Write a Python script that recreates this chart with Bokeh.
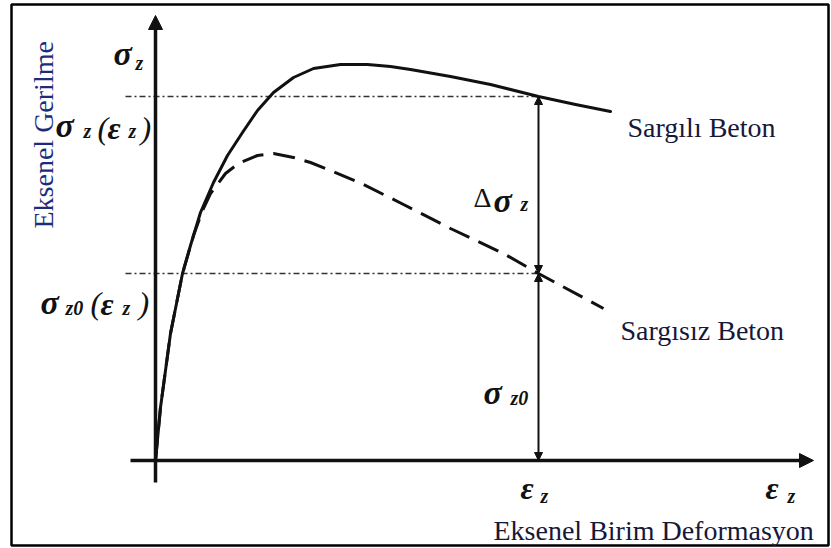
from bokeh.plotting import figure
from bokeh.models import Range1d, Arrow, NormalHead
from bokeh.core.properties import value
from bokeh.embed import file_html
from bokeh.resources import INLINE

# Stress-strain curves (schematic units: strain along x, stress along y)
confined_strain = [0.00, 0.05, 0.15, 0.27, 0.35, 0.45, 0.58, 0.72, 0.87, 1.02, 1.18,
                   1.38, 1.58, 1.85, 2.12, 2.35, 2.55, 2.95, 3.35, 3.83, 4.20, 4.55]
confined_stress = [0.00, 0.53, 1.27, 1.87, 2.15, 2.48, 2.78, 3.05, 3.28, 3.50, 3.68,
                   3.83, 3.92, 3.96, 3.96, 3.94, 3.91, 3.84, 3.76, 3.64, 3.56, 3.49]

unconfined_strain = [0.00, 0.05, 0.15, 0.27, 0.38, 0.47, 0.55, 0.70, 0.83, 1.02, 1.18,
                     1.38, 1.55, 1.75, 2.08, 2.48, 2.95, 3.48, 3.83, 4.48]
unconfined_stress = [0.00, 0.53, 1.27, 1.87, 2.25, 2.50, 2.67, 2.87, 2.97, 3.05, 3.07,
                     3.03, 2.98, 2.90, 2.76, 2.56, 2.32, 2.07, 1.87, 1.52]

# Reference strain and the stresses of both curves at that strain
eps_z = 3.83
sig_z_at_eps = 3.64
sig_z0_at_eps = 1.87

# Axis extents
x_axis_start, x_axis_end = -0.25, 6.58
y_axis_start, y_axis_end = -0.22, 4.45

INK = "#111111"
TEXT = "#16183a"
LABEL_BLUE = "#1d2c7a"
SERIF = "'Liberation Serif', 'Times New Roman', serif"

p = figure(width=831, height=548, output_backend="svg", toolbar_location=None,
           x_range=Range1d(-1.55, 6.76), y_range=Range1d(-0.88, 4.60),
           min_border=0, min_border_left=0, min_border_right=0,
           min_border_top=0, min_border_bottom=0)
p.axis.visible = False
p.grid.visible = False
p.outline_line_color = None
p.background_fill_color = "white"
p.border_fill_color = "white"

# frame around the drawing
p.quad(left=-1.44, right=6.73, top=4.56, bottom=-0.85, fill_alpha=0,
       line_color="black", line_width=2.5)

# guide lines at the stresses reached at eps_z
for s in (sig_z_at_eps, sig_z0_at_eps):
    p.line([-0.30, eps_z], [s, s], line_color="#333333", line_width=1.4,
           line_dash="6 3 2 3")

# axes with arrow heads
p.add_layout(Arrow(x_start=0, y_start=y_axis_start, x_end=0, y_end=y_axis_end,
                   line_width=3.5, line_color=INK,
                   end=NormalHead(size=14, fill_color=INK, line_color=INK)))
p.add_layout(Arrow(x_start=x_axis_start, y_start=0, x_end=x_axis_end, y_end=0,
                   line_width=3.5, line_color=INK,
                   end=NormalHead(size=14, fill_color=INK, line_color=INK)))

# curves
p.line(confined_strain, confined_stress, line_color=INK, line_width=3,
       line_join="round", line_cap="round")
p.line(unconfined_strain, unconfined_stress, line_color=INK, line_width=3,
       line_dash="22 10", line_join="round")

# dimension arrows at eps_z
p.add_layout(Arrow(x_start=eps_z, y_start=sig_z0_at_eps, x_end=eps_z, y_end=sig_z_at_eps,
                   line_width=2, line_color=INK,
                   start=NormalHead(size=8, fill_color=INK, line_color=INK),
                   end=NormalHead(size=8, fill_color=INK, line_color=INK)))
p.add_layout(Arrow(x_start=eps_z, y_start=0, x_end=eps_z, y_end=sig_z0_at_eps,
                   line_width=2, line_color=INK,
                   start=NormalHead(size=8, fill_color=INK, line_color=INK),
                   end=NormalHead(size=8, fill_color=INK, line_color=INK)))


def put(x, y, s, size, style="italic", color=INK, angle=0.0):
    p.text(x=[x], y=[y], text=[s], text_font=value(SERIF),
           text_font_size=f"{size}px", text_font_style=style,
           text_align="left", text_baseline="alphabetic",
           text_color=color, angle=angle)


SIG, SUB, PAR = 34, 20, 32

# sigma_z at the top of the stress axis
put(-0.42, 4.07, "σ", SIG, "bold italic")
put(-0.20, 3.98, "z", SUB, "bold italic")

# sigma_z(eps_z)
put(-1.00, 3.35, "σ", SIG, "bold italic")
put(-0.72, 3.30, "z", SUB, "bold italic")
put(-0.58, 3.33, "(", PAR, "italic")
put(-0.48, 3.33, "ε", PAR, "bold italic")
put(-0.27, 3.30, "z", SUB, "bold italic")
put(-0.15, 3.33, ")", PAR, "italic")

# sigma_z0(eps_z)
put(-1.15, 1.58, "σ", SIG, "bold italic")
put(-0.90, 1.53, "z0", SUB, "bold italic")
put(-0.65, 1.58, "(", PAR, "italic")
put(-0.55, 1.57, "ε", PAR, "bold italic")
put(-0.33, 1.53, "z", SUB, "bold italic")
put(-0.17, 1.58, ")", PAR, "italic")

# delta sigma_z
put(eps_z - 0.65, 2.63, "Δ", 28, "normal")
put(eps_z - 0.45, 2.60, "σ", SIG, "bold italic")
put(eps_z - 0.18, 2.57, "z", SUB, "bold italic")

# sigma_z0
put(eps_z - 0.55, 0.68, "σ", SIG, "bold italic")
put(eps_z - 0.28, 0.63, "z0", SUB, "bold italic")

# strain labels
put(eps_z - 0.18, -0.27, "ε", PAR, "bold italic")
put(eps_z + 0.02, -0.35, "z", SUB, "bold italic")
put(6.10, -0.27, "ε", PAR, "bold italic")
put(6.32, -0.35, "z", SUB, "bold italic")

# curve names and axis titles
put(4.72, 3.33, "Sargılı Beton", 28, "normal", TEXT)
put(4.65, 1.30, "Sargısız Beton", 28, "normal", TEXT)
put(3.38, -0.70, "Eksenel Birim Deformasyon", 28, "normal", TEXT)
put(-1.12, 2.32, "Eksenel Gerilme", 28, "normal", LABEL_BLUE, angle=1.5708)

open("out.html", "w").write(file_html(p, INLINE))
